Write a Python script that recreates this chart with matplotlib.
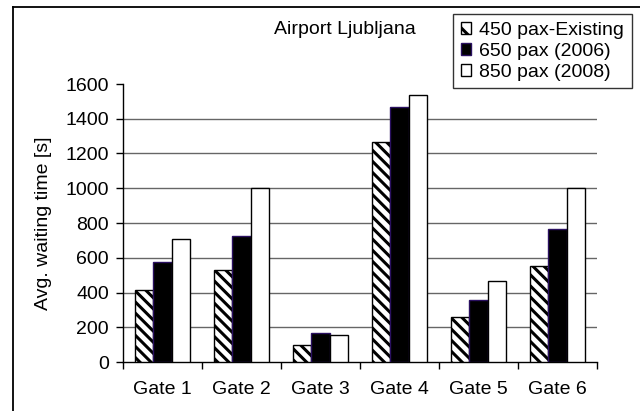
import numpy as np
import matplotlib
matplotlib.use("Agg")
import matplotlib.pyplot as plt
from matplotlib.patches import Patch
from matplotlib.lines import Line2D

plt.rcParams["font.family"] = ["Liberation Sans", "DejaVu Sans"]
plt.rcParams["hatch.linewidth"] = 2.2

gates = ["Gate 1", "Gate 2", "Gate 3", "Gate 4", "Gate 5", "Gate 6"]
pax_450 = [415, 530, 96, 1266, 261, 553]
pax_650 = [578, 726, 165, 1466, 357, 767]
pax_850 = [709, 1000, 157, 1539, 467, 1000]
series_labels = ["450 pax-Existing", "650 pax (2006)", "850 pax (2008)"]

W, H = 640, 411
FS = 14
fig = plt.figure(figsize=(W / 100, H / 100), dpi=100)
ax = fig.add_axes([123 / W, (H - 362) / H, (597 - 123) / W, (362 - 84) / H])

x = np.arange(len(gates))
bw = 0.228
stripes = "\\\\\\"
ax.bar(x - bw, pax_450, bw, color="white", edgecolor="black", hatch=stripes, linewidth=1, zorder=3)
ax.bar(x, pax_650, bw, color="black", edgecolor="#2a1060", linewidth=1, zorder=3)
ax.bar(x + bw, pax_850, bw, color="white", edgecolor="black", linewidth=1, zorder=3)

ax.set_xlim(-0.5, len(gates) - 0.5)
ax.set_ylim(0, 1600)
ax.set_yticks(np.arange(0, 1601, 200))
for yv in range(200, 1600, 200):
    ax.axhline(yv, color="#666666", linewidth=1, zorder=1)

# category boundaries carry the tick marks, labels sit between them
ax.set_xticks(np.arange(-0.5, len(gates), 1.0))
ax.set_xticklabels([])
ax.set_xticks(x, minor=True)
ax.set_xticklabels(gates, minor=True)
ax.tick_params(axis="x", which="major", length=5, width=1, direction="out")
ax.tick_params(axis="x", which="minor", length=0, pad=14, labelsize=FS)
ax.tick_params(axis="y", length=5, width=1, direction="out", pad=5, labelsize=FS)

for s in ["top", "right"]:
    ax.spines[s].set_visible(False)
for s in ["left", "bottom"]:
    ax.spines[s].set_linewidth(1)

fig.text(44 / W, 1 - 223 / H, "Avg. waiting time [s]", rotation=90,
         ha="center", va="center", fontsize=FS)
fig.text(345 / W, 1 - 30 / H, "Airport Ljubljana", ha="center", va="center", fontsize=FS)

handles = [
    Patch(facecolor="white", edgecolor="black", hatch="\\\\", linewidth=1),
    Patch(facecolor="black", edgecolor="#2a1060", linewidth=1),
    Patch(facecolor="white", edgecolor="black", linewidth=1),
]
leg = fig.legend(handles, series_labels, loc="upper left",
                 bbox_to_anchor=(453 / W, 1 - 14 / H), borderaxespad=0,
                 fontsize=FS, frameon=True, fancybox=False, framealpha=1,
                 edgecolor="#333333", handlelength=0.55, handleheight=0.55,
                 handletextpad=0.4, labelspacing=0.2, borderpad=0.4)
leg.get_frame().set_linewidth(1)

# outer chart border (left and top edges)
fig.add_artist(Line2D([13 / W, 13 / W], [1 - 7 / H, 0], transform=fig.transFigure,
                      color="black", linewidth=1.3))
fig.add_artist(Line2D([13 / W, 1], [1 - 7 / H, 1 - 7 / H], transform=fig.transFigure,
                      color="black", linewidth=1.3))

fig.savefig("out.png", dpi=100)
